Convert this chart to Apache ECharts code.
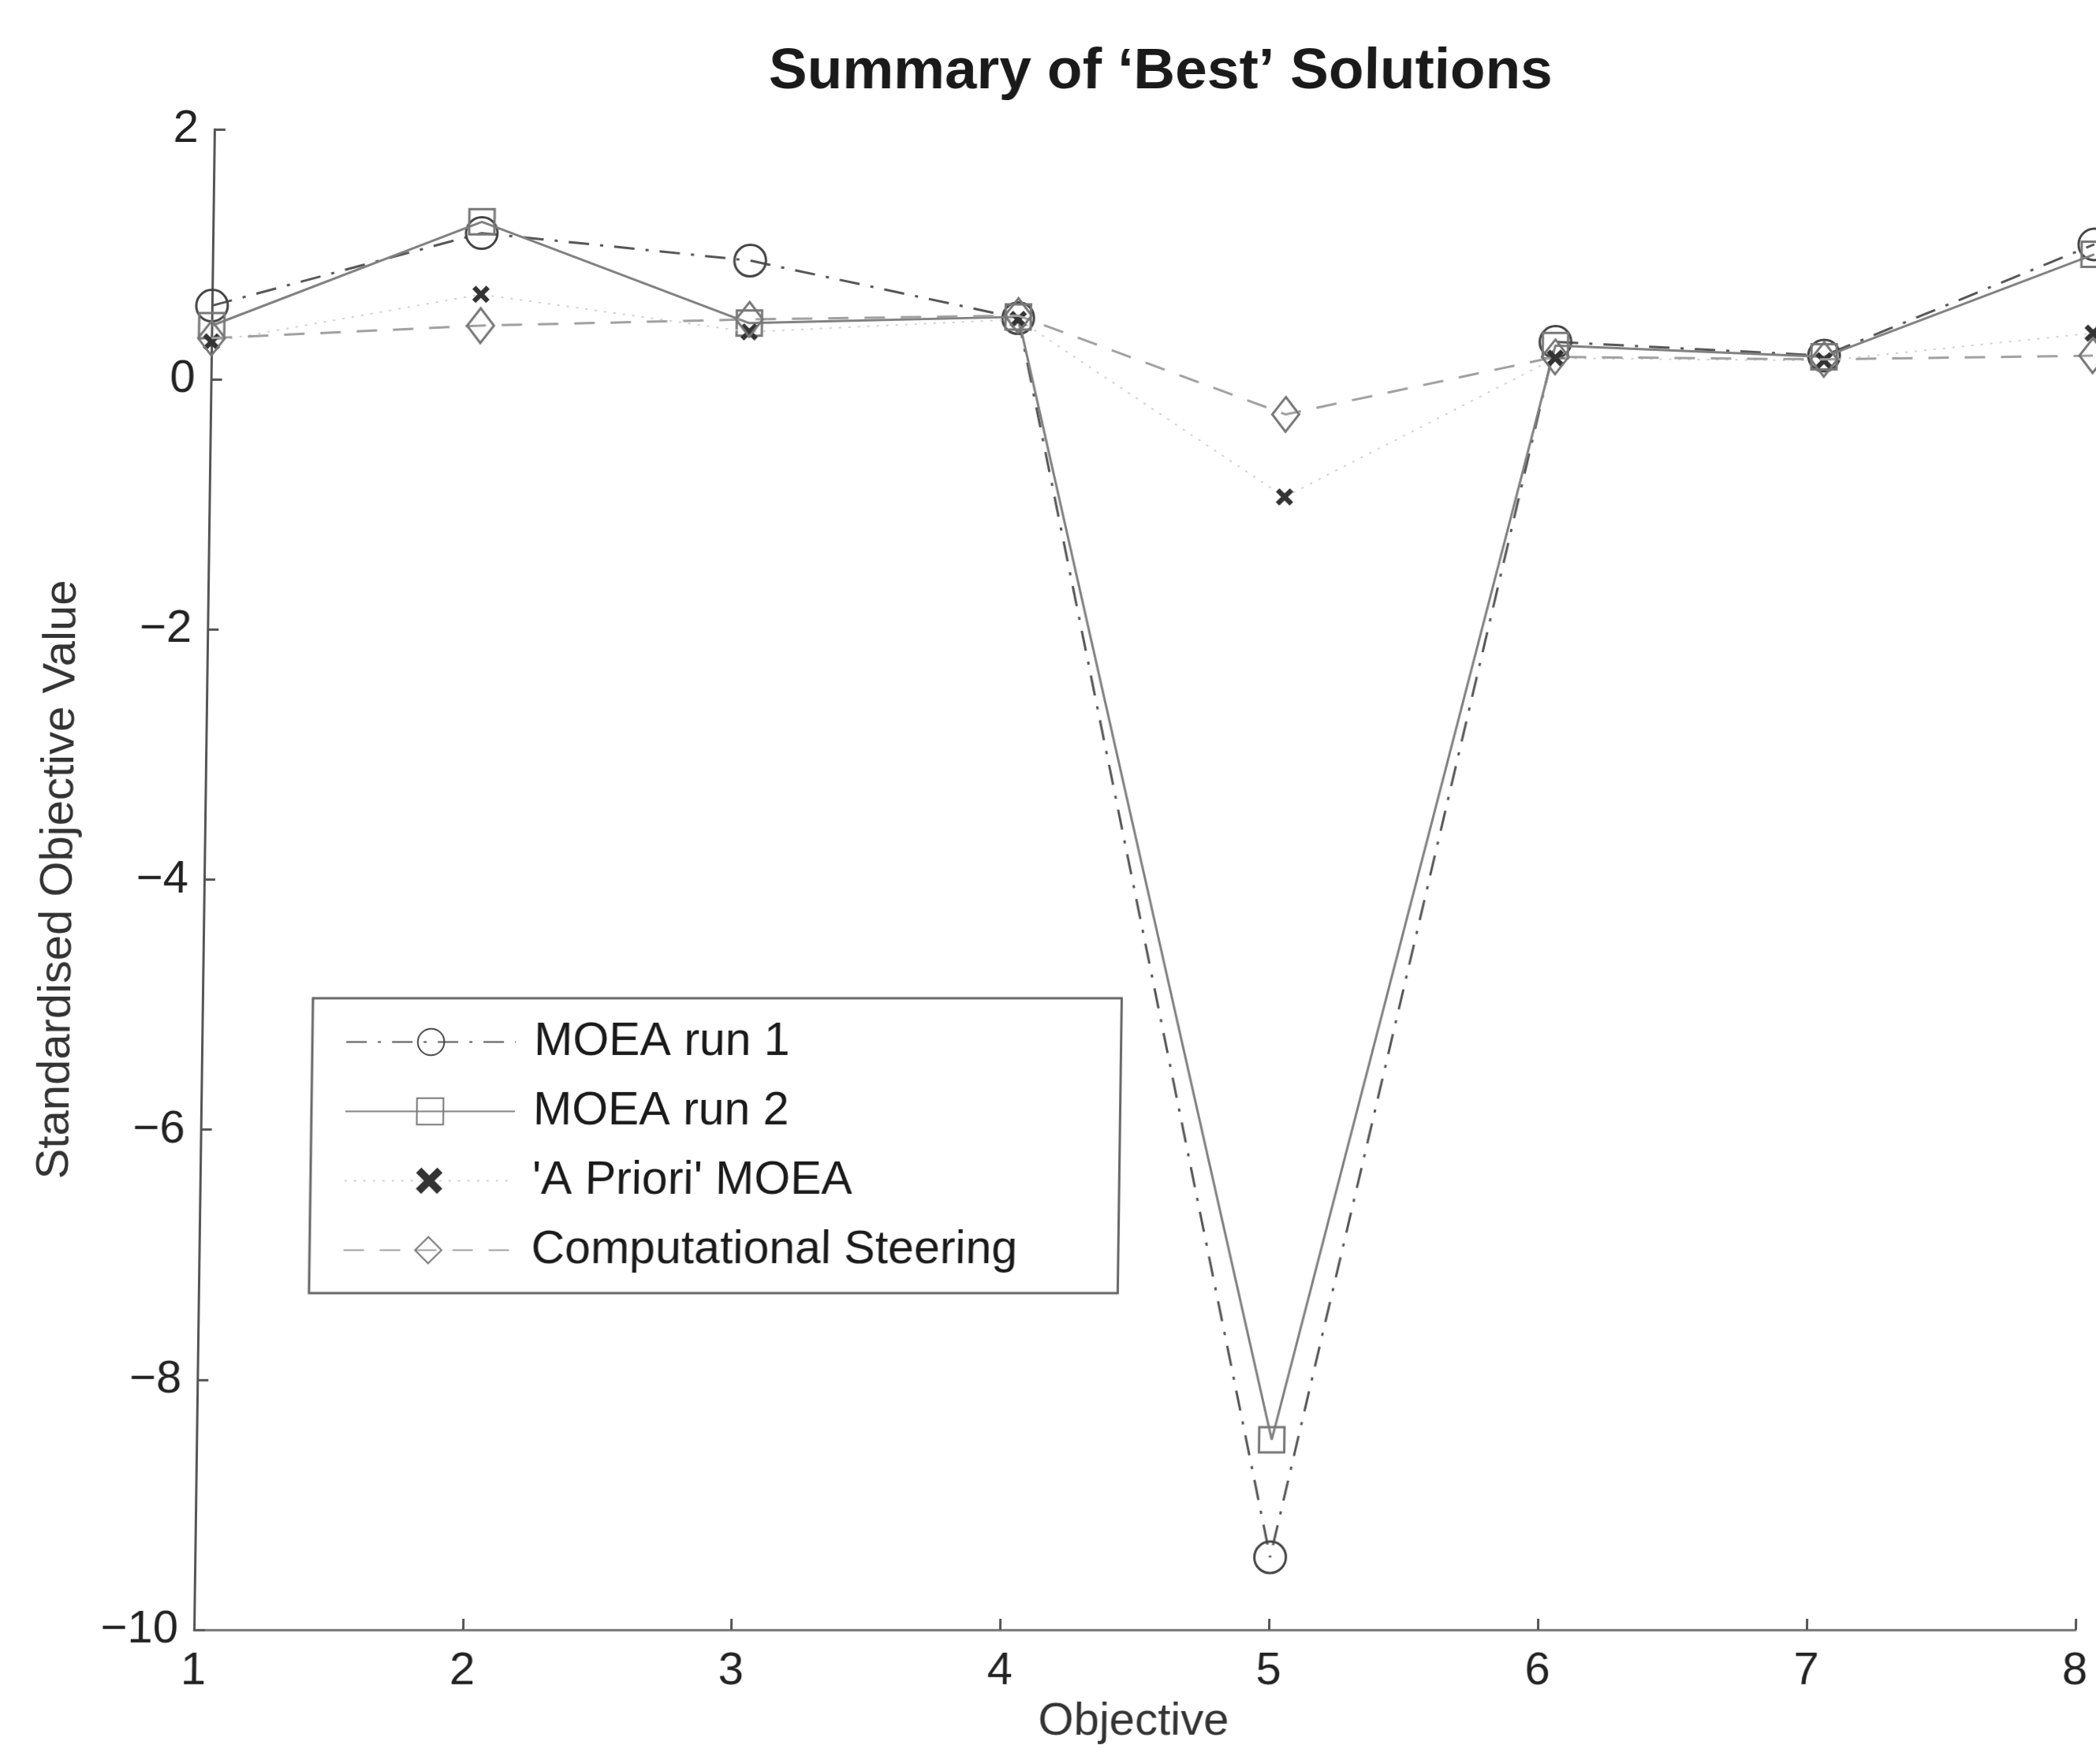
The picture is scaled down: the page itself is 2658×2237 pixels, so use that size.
<!DOCTYPE html>
<html>
<head>
<meta charset="utf-8">
<title>Summary of ‘Best’ Solutions</title>
<script src="https://cdn.jsdelivr.net/npm/echarts@6/dist/echarts.min.js"></script>
<style>
  html, body { margin: 0; padding: 0; background: #ffffff; }
  #chart {
    width: 2658px;
    height: 2237px;
    /* the printed figure leans slightly: the bottom axis stays put, the top drifts right */
    transform: skewX(-0.78deg);
    transform-origin: 0 2067px;
  }
</style>
</head>
<body>
<div id="chart"></div>
<script>
// Objectives along the horizontal axis
const categories = ['1', '2', '3', '4', '5', '6', '7', '8'];

// Standardised objective values of the chosen solutions
const moeaRun1 = [0.59, 1.17, 0.95, 0.49, -9.42, 0.30, 0.19, 1.08];
const moeaRun2 = [0.43, 1.26, 0.45, 0.50, -8.48, 0.27, 0.18, 1.00];
const aPrioriMoea = [0.30, 0.68, 0.38, 0.48, -0.94, 0.17, 0.15, 0.37];
const compSteering = [0.33, 0.43, 0.48, 0.51, -0.28, 0.18, 0.16, 0.19];

// Series names as shown in the key
const seriesNames = ['MOEA run 1', 'MOEA run 2', "'A Priori' MOEA", 'Computational Steering'];

const FONT = '"Liberation Sans", Arial, Helvetica, sans-serif';
const CLEAR = 'rgba(255,255,255,0)';
const CROSS = 'path://M2,0 L5,3 L8,0 L10,2 L7,5 L10,8 L8,10 L5,7 L2,10 L0,8 L3,5 L0,2 Z';

const chart = echarts.init(document.getElementById('chart'), null, { renderer: 'canvas' });

chart.setOption({
  backgroundColor: '#ffffff',
  animation: false,
  title: {
    text: 'Summary of ‘Best’ Solutions',
    left: 1440,
    top: 50,
    textAlign: 'center',
    textStyle: { fontFamily: FONT, fontSize: 73, fontWeight: 'bold', color: '#1a1a1a' }
  },
  legend: {
    orient: 'vertical',
    left: 386,
    top: 1266,
    padding: [26, 128, 25, 42],
    itemGap: 29,
    itemWidth: 215,
    itemHeight: 42,
    borderColor: '#666666',
    borderWidth: 3,
    backgroundColor: '#ffffff',
    textStyle: { fontFamily: FONT, fontSize: 59, color: '#1a1a1a', padding: [0, 0, 0, 18] },
    data: seriesNames
  },
  grid: { left: 246, right: 26, top: 164, bottom: 170, containLabel: false },
  xAxis: {
    type: 'category',
    data: categories,
    boundaryGap: false,
    name: 'Objective',
    nameLocation: 'middle',
    nameGap: 88,
    nameTextStyle: { fontFamily: FONT, fontSize: 58, color: '#333333' },
    axisLine: { onZero: false, lineStyle: { color: '#777777', width: 3 } },
    axisTick: { inside: true, length: 14, alignWithLabel: true, lineStyle: { color: '#555555', width: 3 } },
    axisLabel: { fontFamily: FONT, fontSize: 58, color: '#222222', margin: 24 },
    splitLine: { show: false }
  },
  yAxis: {
    type: 'value',
    min: -10,
    max: 2,
    interval: 2,
    name: 'Standardised Objective Value',
    nameLocation: 'middle',
    nameGap: 155,
    nameRotate: 90,
    nameTextStyle: { fontFamily: FONT, fontSize: 58, color: '#333333' },
    axisLine: { show: true, onZero: false, lineStyle: { color: '#555555', width: 3 } },
    axisTick: { show: true, inside: true, length: 14, lineStyle: { color: '#555555', width: 3 } },
    axisLabel: {
      fontFamily: FONT, fontSize: 58, color: '#222222', margin: 20,
      formatter: v => (v < 0 ? '\u2212' + Math.abs(v) : String(v))
    },
    splitLine: { show: false }
  },
  series: [
    {
      name: seriesNames[0],
      type: 'line',
      data: moeaRun1,
      symbol: 'circle',
      symbolSize: 40,
      itemStyle: { color: CLEAR, borderColor: '#444444', borderWidth: 3 },
      lineStyle: { color: '#555555', width: 3, type: [26, 14, 4, 14] },
      z: 2
    },
    {
      name: seriesNames[1],
      type: 'line',
      data: moeaRun2,
      symbol: 'rect',
      symbolSize: 32,
      itemStyle: { color: CLEAR, borderColor: '#777777', borderWidth: 3 },
      lineStyle: { color: '#808080', width: 3, type: 'solid' },
      z: 3
    },
    {
      name: seriesNames[2],
      type: 'line',
      data: aPrioriMoea,
      symbol: CROSS,
      symbolSize: 22,
      itemStyle: { color: '#333333' },
      lineStyle: { color: '#d0d0d0', width: 2, type: [3, 9] },
      z: 4
    },
    {
      name: seriesNames[3],
      type: 'line',
      data: compSteering,
      symbol: 'diamond',
      symbolSize: [34, 44],
      itemStyle: { color: CLEAR, borderColor: '#777777', borderWidth: 3 },
      lineStyle: { color: '#a0a0a0', width: 3, type: [26, 20] },
      z: 5
    }
  ]
});
</script>
</body>
</html>
